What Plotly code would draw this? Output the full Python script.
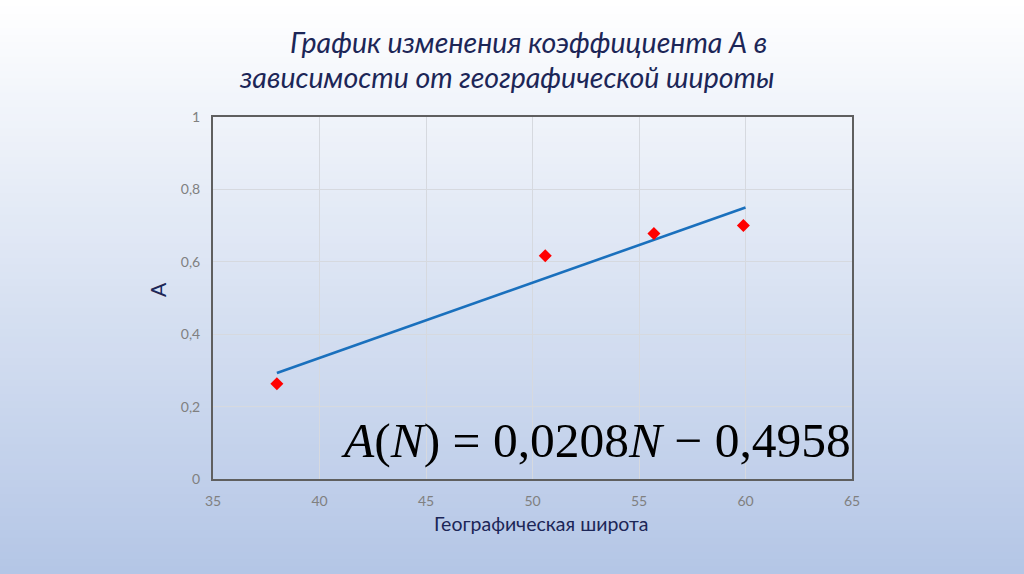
import plotly.graph_objects as go

# Data
latitude = [38.0, 50.6, 55.7, 59.9]
coef_a = [0.263, 0.617, 0.678, 0.700]
trend_x = [38.0, 60.0]
trend_y = [0.293, 0.750]
x_ticks = [35, 40, 45, 50, 55, 60, 65]
y_ticks = [0, 0.2, 0.4, 0.6, 0.8, 1]
y_tick_labels = ["0", "0,2", "0,4", "0,6", "0,8", "1"]

W, H = 1024, 574
L, R, T, B = 213, 172, 117, 95
pw, ph = W - L - R, H - T - B

fig = go.Figure()
fig.add_trace(go.Scatter(x=trend_x, y=trend_y, mode="lines",
                         line=dict(color="#1a70bd", width=2.6), showlegend=False))
fig.add_trace(go.Scatter(x=latitude, y=coef_a, mode="markers",
                         marker=dict(symbol="diamond", color="#ff0000", size=10),
                         showlegend=False))

# background gradient bands (paper coordinates covering the whole page)
shapes = []
n = 80
top_c = (255, 255, 255)
bot_c = (180, 198, 230)
for i in range(n):
    f0 = i / n
    f1 = (i + 1) / n
    fm = (f0 + f1) / 2
    c = tuple(round(top_c[k] + (bot_c[k] - top_c[k]) * fm) for k in range(3))
    py0 = (H - B - f0 * H) / ph
    py1 = (H - B - f1 * H) / ph
    shapes.append(dict(type="rect", xref="paper", yref="paper",
                       x0=-L / pw - 0.01, x1=1 + R / pw + 0.01,
                       y0=py1 - 0.002, y1=py0 + 0.002,
                       fillcolor="rgb(%d,%d,%d)" % c, line=dict(width=0),
                       layer="below"))

navy = "#1c2657"
annotations = [
    dict(text="График изменения коэффициента А в", x=(288 - L) / pw, y=(H - B - 42) / ph,
         xref="paper", yref="paper", xanchor="left", yanchor="middle", showarrow=False,
         font=dict(family="Lato", size=28.5, color=navy, style="italic")),
    dict(text="зависимости от географической широты", x=(237 - L) / pw, y=(H - B - 77) / ph,
         xref="paper", yref="paper", xanchor="left", yanchor="middle", showarrow=False,
         font=dict(family="Lato", size=28.5, color=navy, style="italic")),
    dict(text="A", x=(157 - L) / pw, y=(H - B - 290) / ph, textangle=-90,
         xref="paper", yref="paper", xanchor="center", yanchor="middle", showarrow=False,
         font=dict(family="Lato", size=21, color=navy)),
    dict(text="Географическая широта", x=(541 - L) / pw, y=(H - B - 523) / ph,
         xref="paper", yref="paper", xanchor="center", yanchor="middle", showarrow=False,
         font=dict(family="Lato", size=19.5, color=navy)),
    dict(text="<i>A</i>(<i>N</i>) = 0,0208<i>N</i> − 0,4958", x=(853 - L) / pw, y=(H - B - 440) / ph,
         xref="paper", yref="paper", xanchor="right", yanchor="middle", showarrow=False,
         font=dict(family="Liberation Serif", size=49.5, color="#000000")),
]

fig.update_layout(
    width=W, height=H,
    margin=dict(l=L, r=R, t=T, b=B),
    paper_bgcolor="#ffffff",
    plot_bgcolor="rgba(0,0,0,0)",
    shapes=shapes,
    annotations=annotations,
    xaxis=dict(range=[35, 65], tickvals=x_ticks, showgrid=True, gridcolor="#d6d9df",
               gridwidth=1, zeroline=False, showline=True, linecolor="#5f5f5f",
               linewidth=2, mirror=True, ticks="", ticklabelstandoff=8,
               tickfont=dict(family="Lato", size=14, color="#808080")),
    yaxis=dict(range=[0, 1], tickvals=y_ticks, ticktext=y_tick_labels, showgrid=True,
               gridcolor="#d6d9df", gridwidth=1, zeroline=False, showline=True,
               linecolor="#5f5f5f", linewidth=2, mirror=True, ticks="",
               ticklabelstandoff=8,
               tickfont=dict(family="Lato", size=14, color="#808080")),
)

fig.write_html("out.html", config={"displayModeBar": False},
               post_script="document.body.style.margin='0';document.body.style.overflow='hidden';")
